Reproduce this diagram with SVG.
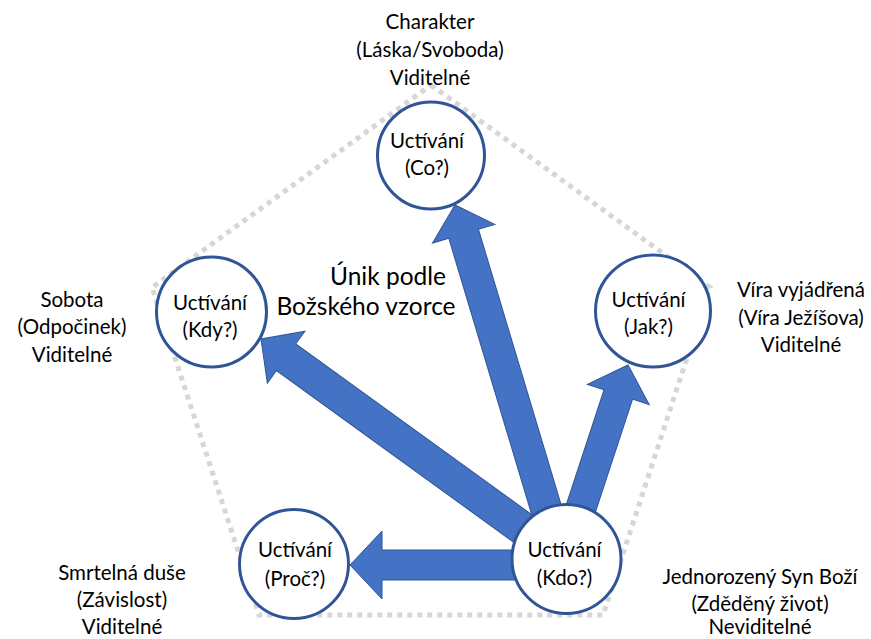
<svg xmlns="http://www.w3.org/2000/svg" width="871" height="639" viewBox="0 0 871 639">
  <style>
    text { font-family: Lato, "Liberation Sans", sans-serif; font-size: 20.5px; fill: #000; text-anchor: middle; }
    .big { font-size: 24.5px; }
    .node circle, .node ellipse { fill: #fff; stroke: #2F5597; stroke-width: 3; }
    .arrow { fill: #4472C4; stroke: #2F5597; stroke-width: 1; stroke-linejoin: miter; }
    .pent { fill: none; stroke: #D6D6D6; stroke-width: 5; stroke-dasharray: 5 5; }
  </style>
  <rect width="871" height="639" fill="#fff"/>
  <polygon class="pent" points="431,85 710,287.5 603,615 259,615 152,287.5"/>

  <g id="connectors">
    <polygon class="arrow" transform="translate(455,205) rotate(-106.7)" points="-346,-15.5 -30,-15.5 -30,-32.5 0,0 -30,32.5 -30,15.5 -346,15.5"/>
    <polygon class="arrow" transform="translate(261,339) rotate(-144.1)" points="-350,-16.5 -31,-16.5 -31,-32 0,0 -31,32 -31,16.5 -350,16.5"/>
    <polygon class="arrow" transform="translate(628,365) rotate(-71.8)" points="-178,-15 -31,-15 -31,-32.5 0,0 -31,32.5 -31,15 -178,15"/>
    <polygon class="arrow" transform="translate(350,565) rotate(180)" points="-190,-15 -32,-15 -32,-34 0,0 -32,34 -32,15 -190,15"/>
  </g>

  <g id="node-co" class="node">
    <circle cx="431" cy="155.5" r="53.5"/>
    <text x="427" y="148">Uctívání</text>
    <text x="427" y="175">(Co?)</text>
  </g>
  <g id="node-kdy" class="node">
    <circle cx="211.5" cy="312" r="55"/>
    <text x="210" y="310">Uctívání</text>
    <text x="210" y="337">(Kdy?)</text>
  </g>
  <g id="node-jak" class="node">
    <ellipse cx="653" cy="311" rx="57.5" ry="56"/>
    <text x="648.5" y="307">Uctívání</text>
    <text x="648.5" y="334">(Jak?)</text>
  </g>
  <g id="node-kdo" class="node">
    <circle cx="566.5" cy="559" r="54.5"/>
    <text x="564.5" y="557">Uctívání</text>
    <text x="564.5" y="585">(Kdo?)</text>
  </g>
  <g id="node-proc" class="node">
    <circle cx="294" cy="564" r="54.5"/>
    <text x="295" y="557">Uctívání</text>
    <text x="295" y="586">(Proč?)</text>
  </g>

  <g id="label-top">
    <text x="430" y="29">Charakter</text>
    <text x="430" y="57">(Láska/Svoboda)</text>
    <text x="430" y="85">Viditelné</text>
  </g>
  <g id="label-left">
    <text x="72" y="307">Sobota</text>
    <text x="72" y="334">(Odpočinek)</text>
    <text x="72" y="362">Viditelné</text>
  </g>
  <g id="label-right">
    <text x="801" y="297">Víra vyjádřená</text>
    <text x="801" y="325">(Víra Ježíšova)</text>
    <text x="801" y="352">Viditelné</text>
  </g>
  <g id="label-bottom-left">
    <text x="122" y="580">Smrtelná duše</text>
    <text x="122" y="607">(Závislost)</text>
    <text x="122" y="634">Viditelné</text>
  </g>
  <g id="label-bottom-right">
    <text x="760" y="584">Jednorozený Syn Boží</text>
    <text x="760" y="611">(Zděděný život)</text>
    <text x="760" y="634">Neviditelné</text>
  </g>
  <g id="label-center">
    <text class="big" x="388" y="285">Únik podle</text>
    <text class="big" x="366" y="315">Božského vzorce</text>
  </g>
</svg>
